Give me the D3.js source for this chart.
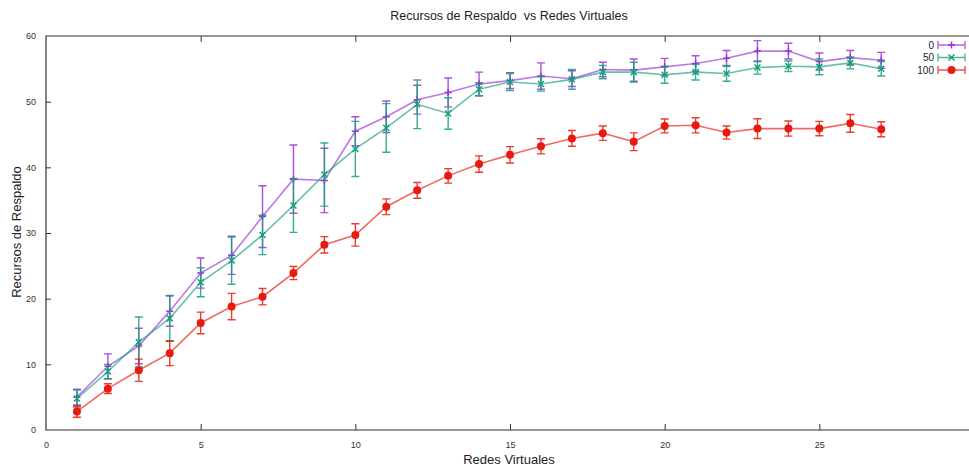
<!DOCTYPE html>
<html>
<head>
<meta charset="utf-8">
<title>Recursos de Respaldo vs Redes Virtuales</title>
<style>

body {
  margin: 0;
  background-color: #fff;
  font-family: "Liberation Sans", Arial, sans-serif;
}

svg {
  display: block;
}

.axis path,
.axis line {
  stroke: #333;
}

.axis text {
  font-size: 9px;
  fill: #333;
}

</style>
</head>
<body>
<svg width="969" height="466"></svg>
<script src="https://cdnjs.cloudflare.com/ajax/libs/d3/7.8.5/d3.min.js"></script>
<script>

var redes = d3.range(1, 28);

var xTicks = [0, 5, 10, 15, 20, 25];
var yTicks = [0, 10, 20, 30, 40, 50, 60];

// media y desviacion de cada serie
var media0 = [5.0, 9.7, 12.8, 18.1, 23.9, 26.6, 32.5, 38.2, 38.0, 45.5, 47.7, 50.3, 51.4, 52.7,
              53.2, 53.9, 53.5, 54.9, 54.8, 55.3, 55.8, 56.6, 57.7, 57.7, 56.1, 56.7, 56.3];
var error0 = [1.2, 1.9, 2.7, 2.3, 2.3, 2.9, 4.7, 5.2, 4.9, 2.2, 2.4, 2.2, 2.2, 1.8,
              1.2, 2.0, 1.2, 1.1, 1.7, 1.3, 1.2, 1.2, 1.6, 1.2, 1.3, 1.1, 1.2];

var media50 = [4.8, 8.9, 13.4, 17.0, 22.5, 25.8, 29.7, 34.2, 38.9, 42.8, 46.0, 49.6, 48.2, 51.9,
               53.0, 52.7, 53.4, 54.5, 54.5, 54.1, 54.5, 54.3, 55.2, 55.4, 55.3, 55.9, 55.0];
var error50 = [1.3, 1.1, 3.8, 3.5, 2.2, 3.6, 3.0, 4.1, 4.8, 4.2, 3.7, 3.7, 2.4, 1.0,
               1.3, 1.1, 1.5, 1.0, 1.5, 1.3, 1.2, 1.2, 1.0, 0.8, 1.2, 0.9, 1.1];

var media100 = [2.8, 6.3, 9.1, 11.7, 16.3, 18.8, 20.3, 23.9, 28.2, 29.7, 34.0, 36.5, 38.7, 40.5,
                41.9, 43.2, 44.4, 45.2, 43.9, 46.3, 46.4, 45.3, 45.9, 45.9, 45.9, 46.7, 45.8];
var error100 = [0.85, 0.75, 1.7, 1.9, 1.65, 2.0, 1.25, 1.0, 1.25, 1.7, 1.2, 1.2, 1.1, 1.25,
                1.25, 1.15, 1.2, 1.1, 1.35, 1.05, 1.15, 1.0, 1.5, 1.15, 1.1, 1.35, 1.15];

var series = [
  { name: "0",   media: media0,   error: error0,   color: "#9b30dd", mark: "plus" },
  { name: "50",  media: media50,  error: error50,  color: "#13a07a", mark: "cross" },
  { name: "100", media: media100, error: error100, color: "#e8190e", mark: "dot" }
];

var svg = d3.select("svg");

var x = d3.scaleLinear()
    .domain([0, 30])
    .range([46, 974]);

var y = d3.scaleLinear()
    .domain([0, 60])
    .range([430, 36]);

// marco: izquierda, abajo, arriba
svg.append("path")
    .attr("d", "M" + x(30) + "," + y(60) + "H" + x(0) + "V" + y(0) + "H" + x(30))
    .attr("fill", "none")
    .attr("stroke", "#333")
    .attr("stroke-width", 1.2);

svg.append("g")
    .attr("class", "axis")
    .attr("transform", "translate(0," + y(0) + ")")
    .call(d3.axisBottom(x).tickValues(xTicks).tickSize(-6).tickPadding(12))
    .call(function(g) {
      g.select(".domain").remove();
      g.selectAll(".tick line").filter(function(d) { return d === 0; }).remove();
    });

svg.append("g")
    .attr("class", "axis")
    .attr("transform", "translate(0," + y(60) + ")")
    .call(d3.axisTop(x).tickValues(xTicks.slice(1)).tickSize(-6).tickFormat(""))
    .call(function(g) { g.select(".domain").remove(); });

svg.append("g")
    .attr("class", "axis")
    .attr("transform", "translate(" + x(0) + ",0)")
    .call(d3.axisLeft(y).tickValues(yTicks).tickSize(-5).tickPadding(10))
    .call(function(g) {
      g.select(".domain").remove();
      g.selectAll(".tick line").filter(function(d) { return d === 0 || d === 60; }).remove();
    });

svg.append("text")
    .attr("x", 509)
    .attr("y", 20)
    .attr("text-anchor", "middle")
    .style("font-size", "12.5px")
    .style("fill", "#222")
    .style("white-space", "pre")
    .text("Recursos de Respaldo  vs Redes Virtuales");

svg.append("text")
    .attr("x", 509)
    .attr("y", 464)
    .attr("text-anchor", "middle")
    .style("font-size", "13px")
    .style("fill", "#222")
    .text("Redes Virtuales");

svg.append("text")
    .attr("transform", "translate(21,232) rotate(-90)")
    .attr("text-anchor", "middle")
    .style("font-size", "13px")
    .style("fill", "#222")
    .text("Recursos de Respaldo");

function drawMark(g, mark, color, cx, cy) {
  if (mark === "dot") {
    g.append("circle")
        .attr("cx", cx).attr("cy", cy).attr("r", 4)
        .attr("fill", color);
  } else if (mark === "cross") {
    g.append("path")
        .attr("d", "M" + (cx - 3) + "," + (cy - 3) + "l6,6M" + (cx - 3) + "," + (cy + 3) + "l6,-6")
        .attr("stroke", color).attr("stroke-width", 1.5);
  } else {
    g.append("path")
        .attr("d", "M" + (cx - 3.5) + "," + cy + "h7M" + cx + "," + (cy - 3.5) + "v7")
        .attr("stroke", color).attr("stroke-width", 1.5);
  }
}

var line = d3.line()
    .x(function(d) { return x(d.x); })
    .y(function(d) { return y(d.y); });

series.forEach(function(s) {
  var pts = redes.map(function(r, i) {
    return { x: r, y: s.media[i], e: s.error[i] };
  });
  var g = svg.append("g");

  g.append("path")
      .datum(pts)
      .attr("d", line)
      .attr("fill", "none")
      .attr("stroke", s.color)
      .attr("stroke-opacity", 0.65)
      .attr("stroke-width", 1.6);

  g.selectAll("path.bar")
      .data(pts)
    .enter().append("path")
      .attr("class", "bar")
      .attr("d", function(d) {
        var px = x(d.x), y1 = y(d.y + d.e), y0 = y(d.y - d.e);
        return "M" + px + "," + y1 + "V" + y0 +
               "M" + (px - 4) + "," + y1 + "h8" +
               "M" + (px - 4) + "," + y0 + "h8";
      })
      .attr("fill", "none")
      .attr("stroke", s.color)
      .attr("stroke-opacity", 0.85)
      .attr("stroke-width", 1.4);

  pts.forEach(function(d) { drawMark(g, s.mark, s.color, x(d.x), y(d.y)); });
});

// leyenda
var legend = svg.append("g")
    .attr("transform", "translate(0,45)");

series.forEach(function(s, i) {
  var row = legend.append("g")
      .attr("transform", "translate(0," + (i * 12.5) + ")");
  row.append("text")
      .attr("x", 934)
      .attr("y", 3.5)
      .attr("text-anchor", "end")
      .style("font-size", "10px")
      .style("fill", "#222")
      .text(s.name);
  row.append("path")
      .attr("d", "M938,0H965M938,-4V4M965,-4V4")
      .attr("fill", "none")
      .attr("stroke", s.color)
      .attr("stroke-opacity", 0.75)
      .attr("stroke-width", 1.4);
  drawMark(row, s.mark, s.color, 951.5, 0);
});

</script>
</body>
</html>
